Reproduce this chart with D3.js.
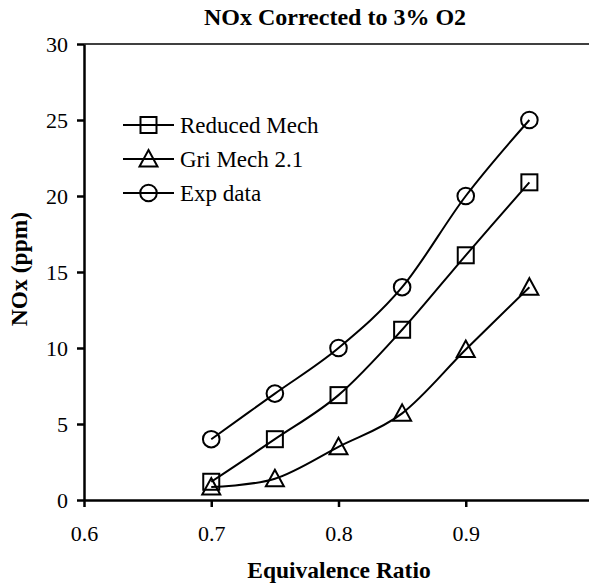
<!DOCTYPE html>
<html>
<head>
<meta charset="utf-8">
<script src="https://cdn.jsdelivr.net/npm/d3@7"></script>
<style>
  html, body { margin: 0; padding: 0; background: #fff; }
  svg { display: block; }
  text { font-family: "Liberation Serif", "Times New Roman", serif; fill: #000; }
</style>
</head>
<body>
<svg id="chart" width="589" height="584"></svg>
<script>
// Equivalence ratio (x) and NOx corrected to 3% O2 (ppm)
const ratios      = [0.70, 0.75, 0.80, 0.85, 0.90, 0.95];
const reducedMech = [1.2, 4.0, 6.9, 11.2, 16.1, 20.9];
const griMech     = [0.85, 1.4, 3.5, 5.7, 9.9, 14.0];
const expData     = [4.0, 7.0, 10.0, 14.0, 20.0, 25.0];

const seriesNames = ["Reduced Mech", "Gri Mech 2.1", "Exp data"];
const seriesMarks = ["square", "triangle", "circle"];
const xTicks = [0.6, 0.7, 0.8, 0.9];
const yTicks = [0, 5, 10, 15, 20, 25, 30];

const chartTitle = "NOx Corrected to 3% O2";
const xTitle = "Equivalence Ratio";
const yTitle = "NOx (ppm)";

const svg = d3.select("#chart");
// the x range runs to 1.0, just past the right edge of the page
const plotLeft = 84, plotTop = 44, plotRight = 593, plotBottom = 500;

const x = d3.scaleLinear().domain([0.6, 1.0]).range([plotLeft, plotRight]);
const y = d3.scaleLinear().domain([0, 30]).range([plotBottom, plotTop]);

const series = [reducedMech, griMech, expData].map((vals, i) => ({
  name: seriesNames[i],
  mark: seriesMarks[i],
  points: ratios.map((r, j) => ({ x: r, y: vals[j] }))
}));

// plot frame top edge
svg.append("line")
  .attr("x1", plotLeft).attr("x2", plotRight)
  .attr("y1", plotTop).attr("y2", plotTop)
  .attr("stroke", "#000").attr("stroke-width", 1.3);

const fontTick = 22;

// x axis
const gx = svg.append("g")
  .attr("transform", `translate(0,${plotBottom})`)
  .call(d3.axisBottom(x).tickValues(xTicks).tickFormat(d3.format(".1f"))
    .tickSize(7).tickSizeOuter(0).tickPadding(18));
gx.select(".domain").attr("stroke-width", 2.5);
gx.selectAll(".tick line").attr("stroke-width", 2.5);
gx.selectAll(".tick text")
  .attr("font-size", fontTick)
  .attr("font-family", "Liberation Serif");

// y axis
const gy = svg.append("g")
  .attr("transform", `translate(${plotLeft},0)`)
  .call(d3.axisLeft(y).tickValues(yTicks).tickFormat(d3.format("d"))
    .tickSize(7).tickSizeOuter(0).tickPadding(9));
gy.select(".domain").attr("stroke-width", 2.5);
gy.selectAll(".tick line").attr("stroke-width", 2.5);
gy.selectAll(".tick text")
  .attr("font-size", fontTick)
  .attr("font-family", "Liberation Serif");

// marker shapes
function drawMarker(g, kind) {
  if (kind === "square") {
    g.append("rect").attr("x", -8).attr("y", -8).attr("width", 16).attr("height", 16);
  } else if (kind === "triangle") {
    g.append("path").attr("d", "M0,-9L9,7.5L-9,7.5Z");
  } else {
    g.append("circle").attr("r", 8.3);
  }
  g.attr("fill", "none").attr("stroke", "#000").attr("stroke-width", 2);
}

const line = d3.line()
  .x(d => x(d.x)).y(d => y(d.y))
  .curve(d3.curveCardinal.tension(0));

series.forEach(s => {
  svg.append("path")
    .datum(s.points)
    .attr("d", line)
    .attr("fill", "none")
    .attr("stroke", "#000")
    .attr("stroke-width", 2);
  s.points.forEach(p => {
    const g = svg.append("g").attr("transform", `translate(${x(p.x)},${y(p.y)})`);
    drawMarker(g, s.mark);
  });
});

// legend
const legendY = [125, 159, 193];
series.forEach((s, i) => {
  const g = svg.append("g").attr("transform", `translate(0,${legendY[i]})`);
  g.append("line").attr("x1", 123).attr("x2", 174).attr("y1", 0).attr("y2", 0)
    .attr("stroke", "#000").attr("stroke-width", 2);
  const m = g.append("g").attr("transform", "translate(148.5,0)");
  drawMarker(m, s.mark);
  g.append("text").attr("x", 180).attr("y", 0).attr("dy", "0.33em")
    .attr("font-size", 23).text(s.name);
});

// titles
svg.append("text")
  .attr("x", 335).attr("y", 25)
  .attr("text-anchor", "middle")
  .attr("font-size", 24).attr("font-weight", "bold")
  .text(chartTitle);

svg.append("text")
  .attr("x", 339).attr("y", 578)
  .attr("text-anchor", "middle")
  .attr("font-size", 23.5).attr("font-weight", "bold")
  .text(xTitle);

svg.append("text")
  .attr("transform", "translate(27,269) rotate(-90)")
  .attr("text-anchor", "middle")
  .attr("font-size", 23.5).attr("font-weight", "bold")
  .text(yTitle);
</script>
</body>
</html>
